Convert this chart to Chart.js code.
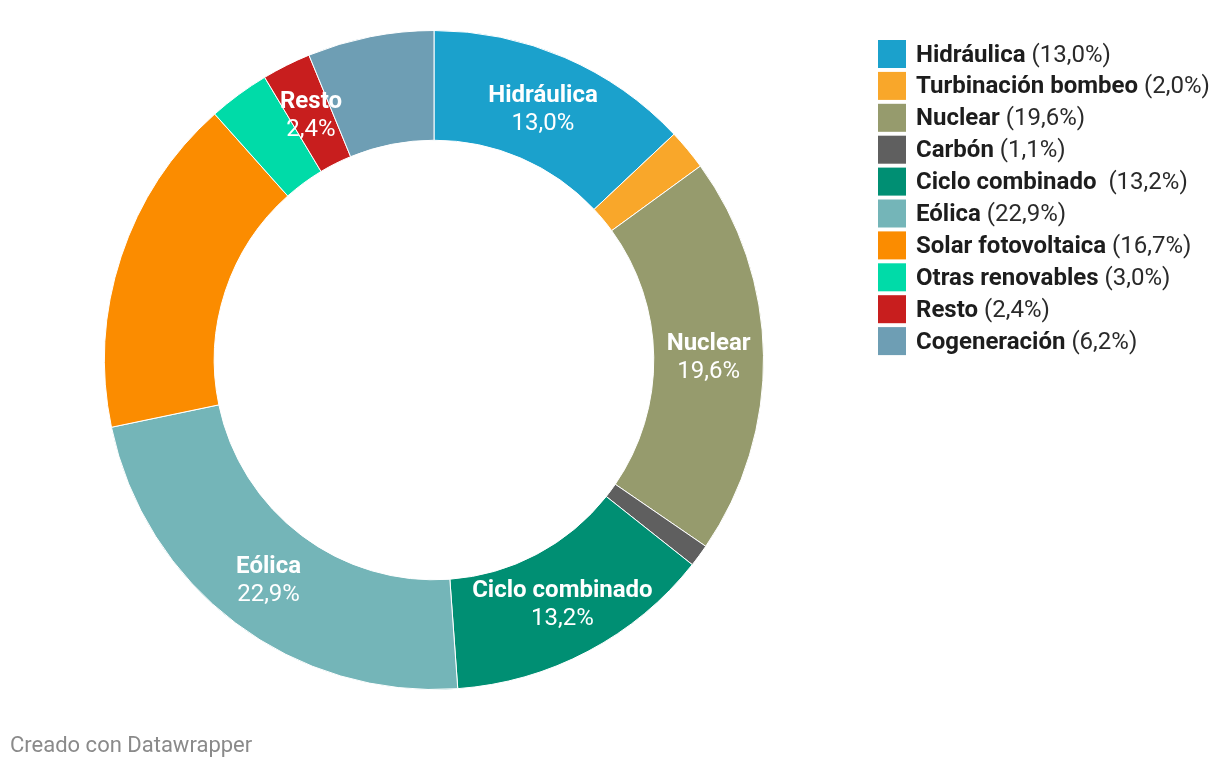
<!DOCTYPE html>
<html>
<head>
<meta charset="utf-8">
<script src="https://cdn.jsdelivr.net/npm/chart.js@4.4.1/dist/chart.umd.min.js"></script>
<style>
  html, body { margin: 0; padding: 0; background: #fff; }
  #wrap { position: relative; width: 1220px; height: 768px; }
  #footer {
    position: absolute; left: 10px; top: 731px;
    font: 22px Roboto, sans-serif; color: #8a8a8a; line-height: 28px;
  }
</style>
</head>
<body>
<div id="wrap">
  <canvas id="chartMix" width="1220" height="768"></canvas>
  <div id="footer">Creado con Datawrapper</div>
</div>
<script>
// -------------------------------------------------------
// Data
// -------------------------------------------------------
const categories = [
    'Hidráulica', 'Turbinación bombeo', 'Nuclear', 'Carbón', 'Ciclo combinado ',
    'Eólica', 'Solar fotovoltaica', 'Otras renovables', 'Resto', 'Cogeneración'
];
const shares = [13.0, 2.0, 19.6, 1.1, 13.2, 22.9, 16.7, 3.0, 2.4, 6.2];
const colors = [
    '#1ba1cc', '#f9a72a', '#969b6d', '#5f5f5f', '#008f73',
    '#74b5b8', '#fb8c00', '#00dba8', '#c81e1e', '#6e9eb4'
];
// slices that carry an inline label
const labelled = ['Hidráulica', 'Nuclear', 'Ciclo combinado ', 'Eólica', 'Resto'];

const fmt = v => v.toFixed(1).replace('.', ',') + '%';

// -------------------------------------------------------
// Inline slice labels
// -------------------------------------------------------
const sliceLabels = {
    id: 'sliceLabels',
    afterDatasetsDraw(chart) {
        const ctx = chart.ctx;
        const arcs = chart.getDatasetMeta(0).data;
        ctx.save();
        ctx.fillStyle = '#ffffff';
        ctx.textAlign = 'center';
        ctx.textBaseline = 'middle';
        arcs.forEach((arc, i) => {
            if (!labelled.includes(categories[i])) return;
            const p = arc.getCenterPoint();
            ctx.font = 'bold 24px Roboto';
            ctx.fillText(categories[i].trim(), p.x, p.y - 12);
            ctx.font = '24px Roboto';
            ctx.fillText(fmt(shares[i]), p.x, p.y + 16);
        });
        ctx.restore();
    }
};

// -------------------------------------------------------
// Legend (bold name + regular share)
// -------------------------------------------------------
const sideLegend = {
    id: 'sideLegend',
    afterDraw(chart) {
        const ctx = chart.ctx;
        const x0 = 878, y0 = 54, pitch = 31.9, box = 28;
        ctx.save();
        ctx.textBaseline = 'middle';
        ctx.textAlign = 'left';
        categories.forEach((name, i) => {
            const cy = y0 + i * pitch;
            ctx.fillStyle = colors[i];
            ctx.fillRect(x0, cy - box / 2, box, box);
            ctx.fillStyle = '#1d1d1d';
            ctx.font = 'bold 24px Roboto';
            ctx.fillText(name, x0 + 38, cy + 1.5);
            const w = ctx.measureText(name + ' ').width;
            ctx.font = '24px Roboto';
            ctx.fillStyle = '#2a2a2a';
            ctx.fillText('(' + fmt(shares[i]) + ')', x0 + 38 + w, cy + 1.5);
        });
        ctx.restore();
    }
};

new Chart(document.getElementById('chartMix').getContext('2d'), {
    type: 'doughnut',
    data: {
        labels: categories,
        datasets: [{
            data: shares,
            backgroundColor: colors,
            borderColor: '#ffffff',
            borderWidth: 1
        }]
    },
    options: {
        responsive: false,
        animation: false,
        cutout: '66.7%',
        layout: { padding: { left: 104, right: 456, top: 30, bottom: 78 } },
        plugins: {
            legend: { display: false },
            tooltip: { enabled: false }
        }
    },
    plugins: [sliceLabels, sideLegend]
});
</script>
</body>
</html>
